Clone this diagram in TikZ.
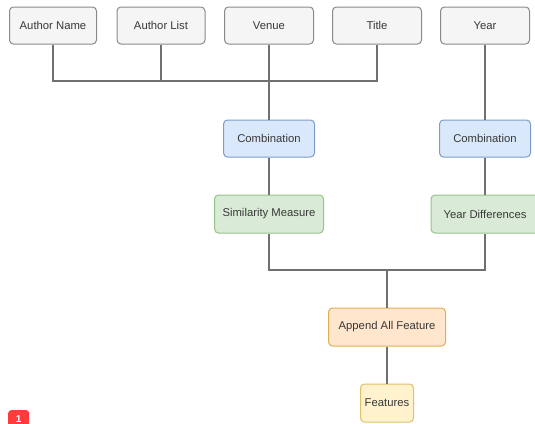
\documentclass[tikz,border=0pt]{standalone}
\usepackage{fontspec}
\setmainfont{Liberation Sans}
\definecolor{gfill}{HTML}{F5F5F5}\definecolor{gline}{HTML}{8A8A8A}
\definecolor{bfill}{HTML}{DAE8FC}\definecolor{bline}{HTML}{7D9CC9}
\definecolor{grfill}{HTML}{D9EBD6}\definecolor{grline}{HTML}{98C48A}
\definecolor{ofill}{HTML}{FFE6CC}\definecolor{oline}{HTML}{E0B050}
\definecolor{yfill}{HTML}{FFF2CC}\definecolor{yline}{HTML}{DCC26A}
\definecolor{wcol}{HTML}{707070}
\definecolor{badgered}{HTML}{FF3B3B}
\begin{document}
\begin{tikzpicture}[x=1pt,y=-1pt,
  box/.style={draw, rounded corners=4pt, line width=1pt, inner sep=0pt, font=\fontsize{11.3}{12}\selectfont, text=black!78},
  graybox/.style={box, fill=gfill, draw=gline},
  bluebox/.style={box, fill=bfill, draw=bline},
  greenbox/.style={box, fill=grfill, draw=grline},
  orangebox/.style={box, fill=ofill, draw=oline},
  yellowbox/.style={box, fill=yfill, draw=yline},
  wire/.style={draw=wcol, line width=1.2pt}]
\useasboundingbox (0,0) rectangle (535,423);
\node[graybox, minimum width=87pt, minimum height=37pt] (an) at (53,25.5) {Author Name};
\node[graybox, minimum width=88pt, minimum height=37pt] (al) at (161,25.5) {Author List};
\node[graybox, minimum width=89pt, minimum height=37pt] (ve) at (269,25.5) {Venue};
\node[graybox, minimum width=89pt, minimum height=37pt] (ti) at (377,25.5) {Title};
\node[graybox, minimum width=89pt, minimum height=37pt] (yr) at (485,25.5) {Year};
\node[bluebox, minimum width=91pt, minimum height=37pt] (c1) at (269,138.5) {Combination};
\node[bluebox, minimum width=91pt, minimum height=37pt] (c2) at (485,138.5) {Combination};
\node[greenbox, minimum width=109pt, minimum height=38pt] (sm) at (269,214) {Similarity Measure};
\node[greenbox, minimum width=108pt, minimum height=38pt] (yd) at (485,214) {Year Differences};
\node[orangebox, minimum width=117pt, minimum height=38pt] (ap) at (387,327) {Append All Feature};
\node[yellowbox, minimum width=53pt, minimum height=38pt] (fe) at (387,403) {Features};
\coordinate (h1) at (0,81);
\coordinate (h2) at (0,270);
\draw[wire] (an.south) |- (ti.south |- h1) -- (ti.south);
\draw[wire] (al.south) -- (al.south |- h1);
\draw[wire] (ve.south) -- (c1.north);
\draw[wire] (yr.south) -- (c2.north);
\draw[wire] (c1.south) -- (sm.north);
\draw[wire] (c2.south) -- (yd.north);
\draw[wire] (sm.south) |- (yd.south |- h2) -- (yd.south);
\draw[wire] (ap.north |- h2) -- (ap.north);
\draw[wire] (ap.south) -- (fe.north);
\node[fill=badgered, rounded corners=3pt, minimum width=21pt, minimum height=18pt, inner sep=0pt, text=white, font=\fontsize{10}{11}\selectfont\bfseries, anchor=north west] (badge) at (8,410) {1};
\end{tikzpicture}
\end{document}
